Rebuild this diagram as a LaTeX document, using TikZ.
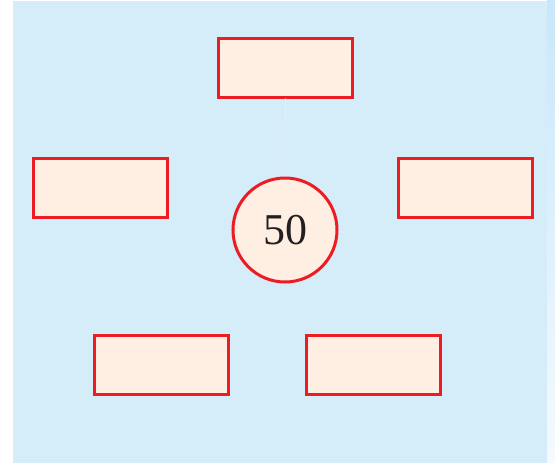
\documentclass[tikz,border=0pt]{standalone}
\usepackage{fontspec}
\setmainfont{Liberation Serif}
\definecolor{bgblue}{HTML}{D5ECF9}
\definecolor{boxfill}{HTML}{FEEFE2}
\definecolor{boxred}{HTML}{ED1C24}
\definecolor{faint}{HTML}{DDEFF9}
\definecolor{txt}{HTML}{231F20}
\definecolor{striptop}{HTML}{C8E7FA}
\definecolor{stripbot}{HTML}{F4FAFE}
\begin{document}
\begin{tikzpicture}[x=1pt,y=-1pt,
  blank/.style={draw=boxred,fill=boxfill,line width=3pt,minimum width=134pt,minimum height=59pt,inner sep=0pt},
  centre/.style={circle,draw=boxred,fill=boxfill,line width=3pt,minimum size=104pt,inner sep=0pt,text=txt,font=\fontsize{44}{44}\selectfont}]
\useasboundingbox (0,0) rectangle (555,463);
\fill[white] (0,0) rectangle (555,463);
\fill[bgblue] (13,1) rectangle (547,463);
\shade[top color=striptop, bottom color=stripbot] (547,0) rectangle (555,463);
\node[blank] (top) at (285.5,67.5) {};
\node[blank] (left) at (100,187.5) {};
\node[blank] (right) at (465,187.5) {};
\node[blank] (bl) at (161,364.5) {};
\node[blank] (br) at (373.5,364.5) {};
\node[centre] (c) at (285,230) {50};
\draw[faint,line width=0.8pt] (top.south) -- (c.north);
\end{tikzpicture}
\end{document}
